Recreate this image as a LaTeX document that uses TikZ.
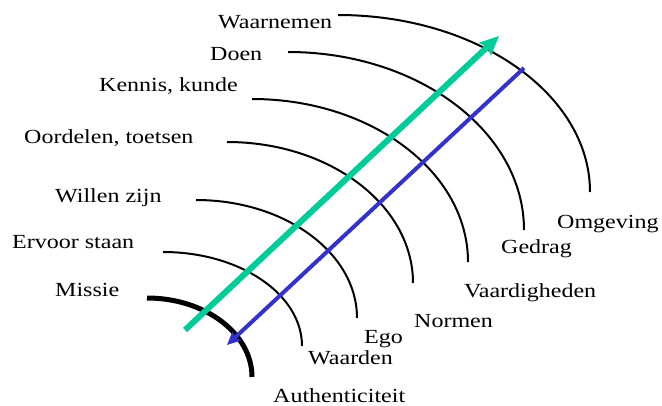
\documentclass[tikz,border=0pt]{standalone}
\usepackage{fontspec}
\setmainfont[FakeStretch=1.2]{Liberation Serif}
\usetikzlibrary{arrows.meta}
\definecolor{arrowgreen}{HTML}{00CC99}
\definecolor{arrowblue}{HTML}{3333CC}
\begin{document}
\begin{tikzpicture}[x=1pt,y=-1pt,
  lbl/.style={anchor=base west,inner sep=0pt,font=\fontsize{20pt}{24pt}\selectfont},
  ring/.style={line width=2pt,black},
  corering/.style={line width=5pt,black}]
\useasboundingbox (0,0) rectangle (662,405);
% labels
\node[lbl] (waarnemen) at (218,28) {Waarnemen};
\node[lbl] (doen) at (210,60) {Doen};
\node[lbl] (kennis) at (99,91) {Kennis, kunde};
\node[lbl] (oordelen) at (24,143) {Oordelen, toetsen};
\node[lbl] (willen) at (55,202) {Willen zijn};
\node[lbl] (ervoor) at (12,248) {Ervoor staan};
\node[lbl] (missie) at (55,296) {Missie};
\node[lbl] (authent) at (273,402) {Authenticiteit};
\node[lbl] (waarden) at (308,364) {Waarden};
\node[lbl] (ego) at (364,343) {Ego};
\node[lbl] (normen) at (414,327) {Normen};
\node[lbl] (vaard) at (464,297) {Vaardigheden};
\node[lbl] (gedrag) at (501,253) {Gedrag};
\node[lbl] (omgeving) at (557,228) {Omgeving};
% arc starts
\coordinate (a1) at (147,298);
\coordinate (a2) at (163,252);
\coordinate (a3) at (196,200);
\coordinate (a4) at (227,142);
\coordinate (a5) at (252,99);
\coordinate (a6) at (288,52);
\coordinate (a7) at (338,15);
% arcs
\draw[corering] (a1) arc[start angle=90,end angle=0,x radius=105pt,y radius=79pt];
\draw[ring] (a2) arc[start angle=90,end angle=0,x radius=139pt,y radius=94pt];
\draw[ring] (a3) arc[start angle=90,end angle=0,x radius=161pt,y radius=118pt];
\draw[ring] (a4) arc[start angle=90,end angle=0,x radius=186pt,y radius=141pt];
\draw[ring] (a5) arc[start angle=90,end angle=0,x radius=216pt,y radius=163pt];
\draw[ring] (a6) arc[start angle=90,end angle=0,x radius=236pt,y radius=178pt];
\draw[ring] (a7) arc[start angle=90,end angle=0,x radius=252pt,y radius=177pt];
% arrows
\coordinate (gs) at (185,330);
\coordinate (ge) at (499,36);
\coordinate (bs) at (524,68);
\coordinate (be) at (227,345);
\draw[arrowgreen,line width=6pt,-{Stealth[length=19pt,width=17pt,inset=3pt]}] (gs) -- (ge);
\draw[arrowblue,line width=4pt,-{Stealth[length=13pt,width=12pt,inset=2pt]}] (bs) -- (be);
\end{tikzpicture}
\end{document}
